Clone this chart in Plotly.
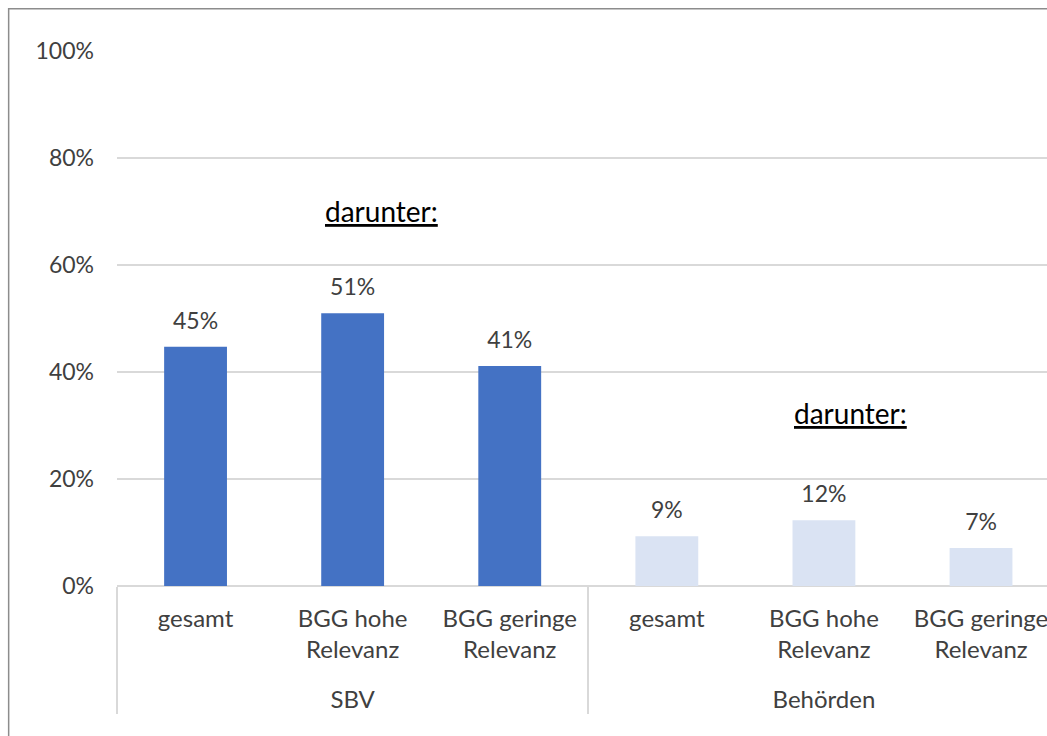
import plotly.graph_objects as go

SP = "<br><span style='font-size:40px'> </span>"
groups = ["SBV", "SBV", "SBV", "Behörden", "Behörden", "Behörden"]
subcats = ["gesamt", "BGG hohe<br>Relevanz", "BGG geringe<br>Relevanz",
           "gesamt", "BGG hohe<br>Relevanz", "BGG geringe<br>Relevanz"]
values = [0.447, 0.51, 0.411, 0.093, 0.123, 0.071]
labels = ["45%", "51%", "41%", "9%", "12%", "7%"]
bar_colors = ["#4472C4"] * 3 + ["#DAE3F3"] * 3

FONT = "Lato"
TXT = "#404040"

sub_display = [s + SP for s in subcats]

fig = go.Figure()
fig.add_trace(go.Bar(
    x=[groups, sub_display], y=values, width=0.4,
    marker=dict(color=bar_colors, line=dict(width=0)),
    hoverinfo="skip", showlegend=False,
))
fig.add_trace(go.Scatter(
    x=[groups, sub_display], y=values, mode="markers+text",
    text=labels, textposition="top center",
    marker=dict(size=18, opacity=0),
    textfont=dict(family=FONT, size=23, color=TXT),
    hoverinfo="skip", showlegend=False, cliponaxis=False,
))

fig.update_layout(
    width=1047, height=736,
    margin=dict(l=117, r=0, t=51, b=150),
    paper_bgcolor="white", plot_bgcolor="white",
    font=dict(family=FONT, size=24, color=TXT),
    xaxis=dict(
        type="multicategory", range=[-0.5, 5.42],
        showline=False, showgrid=False, zeroline=False,
        showdividers=True, dividercolor="#d9d9d9", dividerwidth=2,
        tickfont=dict(family=FONT, size=24, color=TXT),
        ticks="", ticklabelstandoff=16,
    ),
    yaxis=dict(
        range=[0, 1], dtick=0.2, tickformat=".0%",
        showgrid=True, gridcolor="#d9d9d9", gridwidth=2,
        zeroline=True, zerolinecolor="#d9d9d9", zerolinewidth=2,
        showline=False, ticks="", ticklabelstandoff=22,
        tickfont=dict(family=FONT, size=23, color=TXT),
    ),
    annotations=[
        dict(text="<u>darunter:</u>", xref="paper", yref="paper",
             x=0.2839, y=0.701, xanchor="center", yanchor="middle",
             showarrow=False,
             font=dict(family=FONT, size=28, color="#000000")),
        dict(text="<u>darunter:</u>", xref="paper", yref="paper",
             x=0.789, y=0.3234, xanchor="center", yanchor="middle",
             showarrow=False,
             font=dict(family=FONT, size=28, color="#000000")),
    ],
    shapes=[
        dict(type="rect", xref="paper", yref="paper",
             x0=-0.1165, x1=1.05, y0=-0.35, y1=1.079,
             line=dict(color="#8c8c8c", width=1.5), layer="below"),
    ],
)

fig.write_html(
    "out.html",
    config={"displayModeBar": False},
    post_script="document.body.style.margin='0';document.body.style.overflow='hidden';",
)
